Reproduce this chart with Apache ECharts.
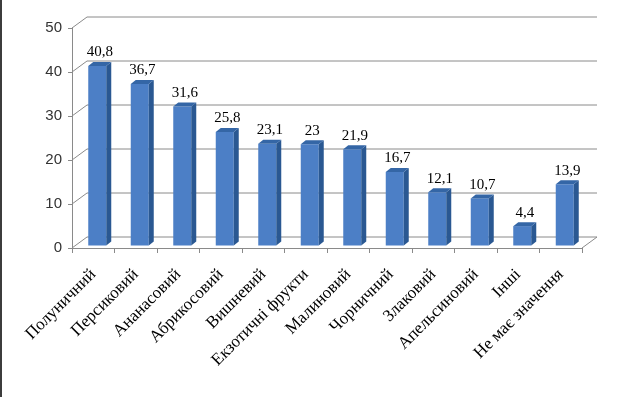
<!DOCTYPE html>
<html>
<head>
<meta charset="utf-8">
<script src="https://cdn.jsdelivr.net/npm/echarts@6/dist/echarts.min.js"></script>
<style>
  html, body { margin: 0; padding: 0; background: #fff; }
  #chart-container { width: 634px; height: 397px; }
</style>
</head>
<body>
<div id="chart-container"></div>
<script>
var categories = ['Полуничний', 'Персиковий', 'Ананасовий', 'Абрикосовий', 'Вишневий',
  'Екзотичні фрукти', 'Малиновий', 'Чорничний', 'Злаковий', 'Апельсиновий', 'Інші', 'Не має значення'];
var values = [40.8, 36.7, 31.6, 25.8, 23.1, 23, 21.9, 16.7, 12.1, 10.7, 4.4, 13.9];
var yTicks = [0, 10, 20, 30, 40, 50];

// depth of the fake 3d box
var DX = 15, DY = 11;
// bar placement inside the depth
var OX = 4, OY = 2.5, SX = 5, SY = 4, BAR_W = 18;

var dom = document.getElementById('chart-container');
var myChart = echarts.init(dom, null, { renderer: 'canvas' });

function frameItem(params, api) {
  var cs = params.coordSys;
  var v = api.value(1);
  var y = api.coord([0, v])[1];
  var x0 = cs.x, x1 = cs.x + cs.width;
  var pts = [[x0, y], [x0 + DX, y - DY], [x1 + DX, y - DY]];
  if (v === 0) pts.push([x1, y]);
  return {
    type: 'polyline',
    shape: { points: pts },
    style: { stroke: '#8a8a8a', lineWidth: 1, fill: null },
    silent: true
  };
}

function barItem(params, api) {
  var i = api.value(0), v = api.value(1);
  var base = api.coord([i, 0]);
  var top = api.coord([i, v]);
  var l = base[0] - BAR_W / 2 + OX;
  var r = l + BAR_W;
  var yb = base[1] - OY;
  var yt = top[1] - OY;
  return {
    type: 'group',
    children: [
      {
        type: 'rect',
        shape: { x: l, y: yt, width: BAR_W, height: yb - yt },
        style: { fill: '#4c7fc6' }
      },
      {
        type: 'polygon',
        shape: { points: [[r, yt], [r + SX, yt - SY], [r + SX, yb - SY], [r, yb]] },
        style: { fill: '#2a5892' }
      },
      {
        type: 'polygon',
        shape: { points: [[l, yt], [l + SX, yt - SY], [r + SX, yt - SY], [r, yt]] },
        style: { fill: '#3466a6' }
      },
      {
        type: 'text',
        x: (l + r + SX) / 2,
        y: yt - SY - 2,
        style: {
          text: String(v).replace('.', ','),
          fontFamily: 'Liberation Serif',
          fontSize: 15,
          fill: '#000',
          align: 'center',
          verticalAlign: 'bottom'
        }
      }
    ]
  };
}

var option = {
  animation: false,
  graphic: [
    { type: 'rect', left: 0, top: 0, shape: { width: 2, height: 397 }, style: { fill: '#3c3c3c' } }
  ],
  grid: { left: 72, right: 52, top: 28, bottom: 149 },
  xAxis: {
    type: 'category',
    data: categories,
    axisLine: { lineStyle: { color: '#8a8a8a', width: 1 } },
    axisTick: { show: true, length: 5, interval: 0, lineStyle: { color: '#8a8a8a' } },
    axisLabel: {
      rotate: 45,
      interval: 0,
      margin: 24,
      fontFamily: 'Liberation Serif',
      fontSize: 17,
      color: '#000'
    },
    splitLine: { show: false }
  },
  yAxis: {
    type: 'value',
    min: 0,
    max: 50,
    interval: 10,
    axisLine: { show: true, lineStyle: { color: '#8a8a8a', width: 1 } },
    axisTick: { show: true, length: 4, lineStyle: { color: '#8a8a8a' } },
    axisLabel: { fontFamily: 'Liberation Sans', fontSize: 15, color: '#333', margin: 10 },
    splitLine: { show: false }
  },
  series: [
    {
      type: 'custom',
      renderItem: frameItem,
      data: yTicks.map(function (v) { return [0, v]; }),
      encode: { x: 0, y: 1 },
      z: 1
    },
    {
      type: 'custom',
      renderItem: barItem,
      data: values.map(function (v, i) { return [i, v]; }),
      encode: { x: 0, y: 1 },
      z: 2
    }
  ]
};

myChart.setOption(option);
window.addEventListener('resize', myChart.resize);
</script>
</body>
</html>
